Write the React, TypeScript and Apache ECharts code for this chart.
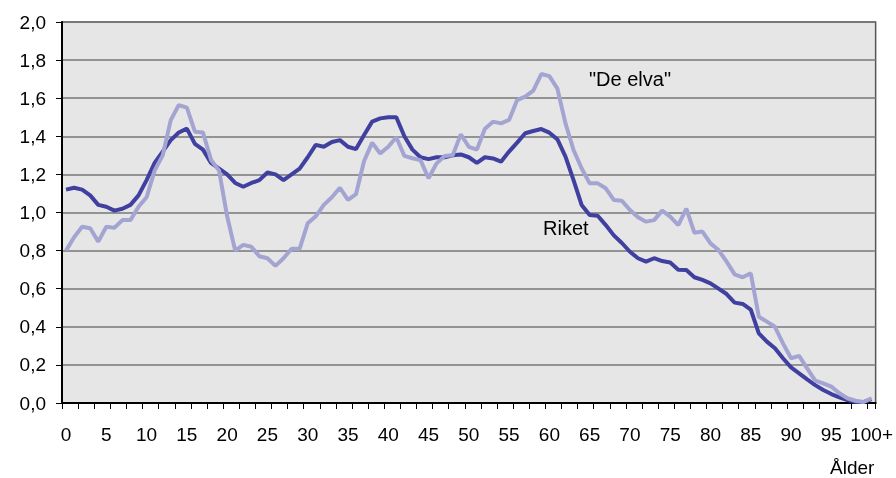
import React, { useEffect, useRef } from "react";
import * as echarts from "echarts";

const ages: string[] = Array.from({ length: 101 }, (_, i) => (i === 100 ? "100+" : String(i)));

const riket: number[] = [
  1.12, 1.13, 1.12, 1.09, 1.04, 1.03, 1.01, 1.02, 1.04, 1.09,
  1.17, 1.26, 1.32, 1.38, 1.42, 1.44, 1.36, 1.33, 1.26, 1.23,
  1.2, 1.155, 1.135, 1.155, 1.17, 1.21, 1.2, 1.17, 1.2, 1.23,
  1.29, 1.355, 1.345, 1.37, 1.38, 1.345, 1.333, 1.407, 1.477, 1.494,
  1.5, 1.5, 1.4, 1.33, 1.29, 1.28, 1.29, 1.29, 1.3, 1.305,
  1.29, 1.26, 1.29, 1.284, 1.267, 1.32, 1.367, 1.416, 1.428, 1.438,
  1.419, 1.384, 1.293, 1.17, 1.04, 0.987, 0.983, 0.934, 0.88, 0.84,
  0.794, 0.76, 0.742, 0.76, 0.745, 0.738, 0.7, 0.698, 0.66, 0.646,
  0.628, 0.6, 0.572, 0.527, 0.52, 0.49, 0.366, 0.322, 0.287, 0.235,
  0.187, 0.156, 0.124, 0.094, 0.068, 0.047, 0.03, 0.015, 0.005, 0.005, 0.02,
];

const deElva: number[] = [
  0.8, 0.87, 0.925, 0.917, 0.847, 0.925, 0.92, 0.96, 0.96, 1.03,
  1.08, 1.22, 1.3, 1.485, 1.564, 1.55, 1.424, 1.42, 1.276, 1.22,
  0.98, 0.8, 0.83, 0.82, 0.77, 0.76, 0.72, 0.76, 0.81, 0.81,
  0.943, 0.98, 1.04, 1.08, 1.13, 1.066, 1.097, 1.27, 1.367, 1.31,
  1.345, 1.395, 1.297, 1.285, 1.275, 1.18, 1.258, 1.297, 1.3, 1.41,
  1.345, 1.33, 1.44, 1.477, 1.468, 1.486, 1.59, 1.608, 1.64, 1.727,
  1.716, 1.65, 1.468, 1.328, 1.232, 1.153, 1.153, 1.127, 1.066, 1.062,
  1.013, 0.975, 0.952, 0.96, 1.01, 0.978, 0.934, 1.02, 0.894, 0.9,
  0.838, 0.803, 0.742, 0.675, 0.66, 0.681, 0.453, 0.427, 0.4, 0.313,
  0.235, 0.247, 0.182, 0.117, 0.103, 0.086, 0.051, 0.025, 0.012, 0.005, 0.025,
];

const FONT = '"Liberation Sans", Arial, sans-serif';

export default function App() {
  const ref = useRef<HTMLDivElement>(null);
  useEffect(() => {
    if (!ref.current) return;
    const chart = echarts.init(ref.current, null, { renderer: "svg" });
    chart.setOption({
      animation: false,
      grid: {
        left: 62,
        right: 20,
        top: 22,
        bottom: 75,
        show: true,
        backgroundColor: "#E6E6E6",
        borderColor: "#555555",
        borderWidth: 1.5,
      },
      xAxis: {
        type: "category",
        data: ages,
        boundaryGap: true,
        axisLine: { show: true, lineStyle: { color: "#000", width: 2 } },
        axisTick: { show: true, interval: 1, length: 6, lineStyle: { color: "#000", width: 1 } },
        axisLabel: {
          interval: 4,
          margin: 22,
          color: "#000",
          fontSize: 19,
          fontFamily: FONT,
        },
        splitLine: { show: false },
      },
      yAxis: {
        type: "value",
        min: 0,
        max: 2,
        interval: 0.2,
        axisLine: { show: true, lineStyle: { color: "#000", width: 2 } },
        axisTick: { show: true, length: 6, lineStyle: { color: "#000", width: 1 } },
        axisLabel: {
          margin: 16,
          color: "#000",
          fontSize: 19,
          fontFamily: FONT,
          formatter: (v: number) => v.toFixed(1).replace(".", ","),
        },
        splitLine: { show: true, lineStyle: { color: "#777777", width: 1.5 } },
      },
      series: [
        {
          name: "Riket",
          type: "line",
          data: riket,
          symbol: "none",
          lineStyle: { color: "#4040A0", width: 4 },
        },
        {
          name: "De elva",
          type: "line",
          data: deElva,
          symbol: "none",
          lineStyle: { color: "#A4A4D2", width: 4 },
        },
      ],
      graphic: [
        {
          type: "text",
          left: 589,
          top: 69,
          style: { text: '"De elva"', fontSize: 20, fontFamily: FONT, fill: "#000" },
        },
        {
          type: "text",
          left: 543,
          top: 218,
          style: { text: "Riket", fontSize: 20, fontFamily: FONT, fill: "#000" },
        },
        {
          type: "text",
          left: 830,
          top: 458,
          style: { text: "Ålder", fontSize: 19, fontFamily: FONT, fill: "#000" },
        },
      ],
    });
    return () => chart.dispose();
  }, []);
  return (
    <div
      ref={ref}
      style={{ position: "fixed", left: 0, top: 0, width: 896, height: 478 }}
    />
  );
}
